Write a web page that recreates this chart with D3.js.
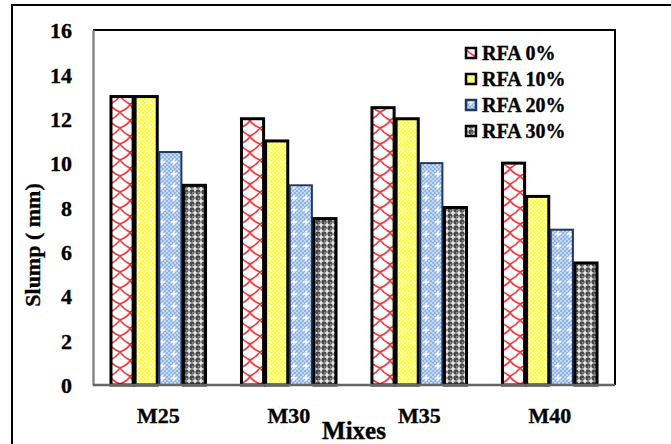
<!DOCTYPE html>
<html>
<head>
<meta charset="utf-8">
<script src="https://cdn.jsdelivr.net/npm/d3@7"></script>
<style>
  body { margin: 0; background: #fff; }
  text { font-family: "Liberation Serif", "Times New Roman", serif; font-weight: bold; fill: #000; stroke: #000; stroke-width: 0.35px; }
</style>
</head>
<body>
<svg id="chart" width="671" height="444"></svg>
<script>
// chart data
var mixes = ["M25", "M30", "M35", "M40"];
var series = ["RFA 0%", "RFA 10%", "RFA 20%", "RFA 30%"];
var rfa0  = [13, 12, 12.5, 10];
var rfa10 = [13, 11, 12, 8.5];
var rfa20 = [10.5, 9, 10, 7];
var rfa30 = [9, 7.5, 8, 5.5];
var yTicks = [0, 2, 4, 6, 8, 10, 12, 14, 16];

var values = [rfa0, rfa10, rfa20, rfa30];
var strokes = ["#000", "#000", "#1f3864", "#000"];

var svg = d3.select("#chart");
var defs = svg.append("defs");

// red diamond lattice with soft joints
var p0 = defs.append("pattern").attr("id", "pat0").attr("patternUnits", "userSpaceOnUse")
  .attr("width", 20).attr("height", 16);
p0.append("rect").attr("width", 20).attr("height", 16).attr("fill", "#fff");
p0.append("path").attr("d", "M0,0 Q4,5 8,7 Q10,8.5 12,7 Q16,5 20,0 M10,8 Q9,12 0,16 M10,8 Q11,12 20,16")
  .attr("fill", "none").attr("stroke", "#f33").attr("stroke-width", 1.6);

// yellow checker with white dots
var p1 = defs.append("pattern").attr("id", "pat1").attr("patternUnits", "userSpaceOnUse")
  .attr("width", 12).attr("height", 12);
p1.append("rect").attr("width", 12).attr("height", 12).attr("fill", "#ffff33");
for (var i = 0; i < 6; i++) for (var j = 0; j < 6; j++) if ((i + j) % 2 == 0)
  p1.append("rect").attr("x", i * 2).attr("y", j * 2).attr("width", 2).attr("height", 2).attr("fill", "#ffffb0");
p1.append("circle").attr("cx", 6).attr("cy", 6).attr("r", 1.3).attr("fill", "#fff");

// blue checker with white stars
var p2 = defs.append("pattern").attr("id", "pat2").attr("patternUnits", "userSpaceOnUse")
  .attr("width", 12).attr("height", 12);
p2.append("rect").attr("width", 12).attr("height", 12).attr("fill", "#8db4e2");
for (var i = 0; i < 6; i++) for (var j = 0; j < 6; j++) if ((i + j) % 2 == 0)
  p2.append("rect").attr("x", i * 2).attr("y", j * 2).attr("width", 2).attr("height", 2).attr("fill", "#c5daf2");
p2.append("path").attr("d", "M6,3 L6,9 M3,6 L9,6").attr("stroke", "#fff").attr("stroke-width", 1.4);

// gray/black checker with crosses
var p3 = defs.append("pattern").attr("id", "pat3").attr("patternUnits", "userSpaceOnUse")
  .attr("width", 6).attr("height", 6);
p3.append("rect").attr("width", 6).attr("height", 6).attr("fill", "#4a4a4a");
p3.append("path").attr("d", "M3,0.5 L3,5.5 M0.5,3 L5.5,3").attr("stroke", "#eee").attr("stroke-width", 1.6);
p3.append("rect").attr("x", 0).attr("y", 0).attr("width", 1.5).attr("height", 1.5).attr("fill", "#999");

// outer frame
svg.append("rect").attr("x", 12).attr("y", 5).attr("width", 700).attr("height", 500)
  .attr("fill", "none").attr("stroke", "#000").attr("stroke-width", 2);

var plotL = 93, plotR = 615, plotT = 30, plotB = 385;

var x = d3.scaleBand().domain(mixes).range([plotL, plotR]).paddingInner(0.26).paddingOuter(0.13);
var xs = d3.scaleBand().domain(series).range([0, x.bandwidth()]);
var y = d3.scaleLinear().domain([0, 16]).range([plotB, plotT]);

// plot border (top/right black)
svg.append("path").attr("d", "M" + plotL + "," + plotT + " H" + plotR + " V" + plotB)
  .attr("fill", "none").attr("stroke", "#000").attr("stroke-width", 2);

// bars
var g = svg.append("g");
series.forEach(function (s, si) {
  g.selectAll(".b" + si).data(mixes).enter().append("rect")
    .attr("x", function (d) { return x(d) + xs(s) + 1; })
    .attr("y", function (d, i) { return y(values[si][i]); })
    .attr("width", xs.bandwidth() - 2)
    .attr("height", function (d, i) { return plotB - y(values[si][i]); })
    .attr("fill", "url(#pat" + si + ")")
    .attr("stroke", strokes[si])
    .attr("stroke-width", si == 2 ? 2 : 3);
});

// axes
var yAxis = svg.append("g").attr("transform", "translate(" + plotL + ",0)")
  .call(d3.axisLeft(y).tickValues(yTicks).tickSize(0).tickPadding(21));
yAxis.select(".domain").attr("stroke", "#888").attr("stroke-width", 2.5);
yAxis.selectAll("text").attr("font-size", 22).attr("dy", "0.35em");

var xAxis = svg.append("g").attr("transform", "translate(0," + plotB + ")")
  .call(d3.axisBottom(x).tickSize(0).tickPadding(22));
xAxis.select(".domain").attr("stroke", "#666").attr("stroke-width", 2.5)
  .attr("d", "M" + plotL + ",0H" + plotR);
xAxis.selectAll("text").attr("font-size", 22);

// axis titles
svg.append("text").attr("x", 354).attr("y", 439).attr("text-anchor", "middle")
  .attr("font-size", 25).text("Mixes");
svg.append("text").attr("transform", "translate(40,245) rotate(-90)")
  .attr("text-anchor", "middle").attr("font-size", 22).text("Slump ( mm)");

// legend
var lg = svg.append("g").attr("transform", "translate(465,0)");
series.forEach(function (s, si) {
  var cy = 53 + si * 26;
  lg.append("rect").attr("x", 1).attr("y", cy - 5).attr("width", 10).attr("height", 10)
    .attr("fill", "url(#pat" + si + ")").attr("stroke", strokes[si]).attr("stroke-width", 2.5);
  lg.append("text").attr("x", 17).attr("y", cy + 7).attr("font-size", 20).text(s);
});
</script>
</body>
</html>
